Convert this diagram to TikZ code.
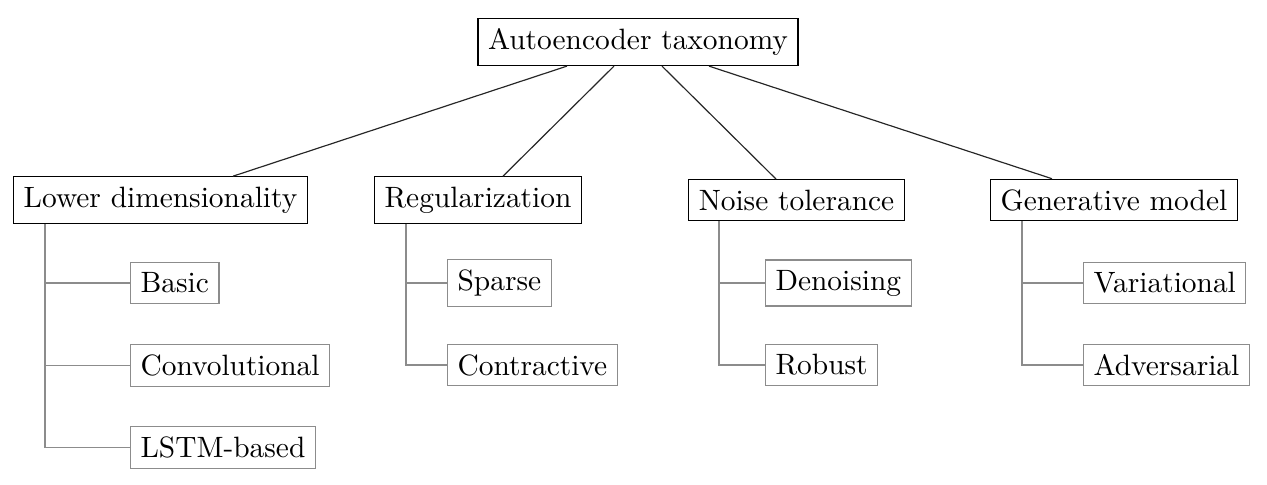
\documentclass[tikz,border=0pt]{standalone}
\begin{document}
\begin{tikzpicture}[x=0.34pt,y=-0.34pt,
  topbox/.style={draw=black,line width=0.4pt,inner sep=3.4pt},
  leafbox/.style={draw=black!45,line width=0.4pt,inner sep=3.4pt,anchor=west},
  rootedge/.style={draw=black!85,line width=0.4pt},
  leafedge/.style={draw=black!45,line width=0.4pt}]
\useasboundingbox (0,0) rectangle (1267,485);
\node[topbox] (root) at (638,42) {Autoencoder taxonomy};
\node[topbox] (ld) at (160.5,200) {Lower dimensionality};
\node[topbox] (reg) at (478,200) {Regularization};
\node[topbox] (noise) at (796.5,200) {Noise tolerance};
\node[topbox] (gen) at (1114,200) {Generative model};
\node[leafbox] (basic) at (130,283) {Basic};
\node[leafbox] (conv) at (130,365.5) {Convolutional};
\node[leafbox] (lstm) at (130,447.5) {LSTM-based};
\node[leafbox] (sparse) at (447,283) {Sparse};
\node[leafbox] (contr) at (447,365) {Contractive};
\node[leafbox] (deno) at (765,283) {Denoising};
\node[leafbox] (rob) at (765,365) {Robust};
\node[leafbox] (var) at (1083,283) {Variational};
\node[leafbox] (adv) at (1083,365) {Adversarial};
\draw[rootedge] ([xshift=-71*0.34pt]root.south) -- ([xshift=72.5*0.34pt]ld.north);
\draw[rootedge] ([xshift=-24*0.34pt]root.south) -- ([xshift=25*0.34pt]reg.north);
\draw[rootedge] ([xshift=24*0.34pt]root.south) -- ([xshift=-20.5*0.34pt]noise.north);
\draw[rootedge] ([xshift=71*0.34pt]root.south) -- ([xshift=-62*0.34pt]gen.north);
\coordinate (ldt) at (45,0);
\draw[leafedge] (ld.south -| ldt) |- (lstm.west);
\draw[leafedge] (basic.west -| ldt) -- (basic.west);
\draw[leafedge] (conv.west -| ldt) -- (conv.west);
\coordinate (regt) at (406,0);
\draw[leafedge] (reg.south -| regt) |- (contr.west);
\draw[leafedge] (sparse.west -| regt) -- (sparse.west);
\coordinate (noit) at (719,0);
\draw[leafedge] (noise.south -| noit) |- (rob.west);
\draw[leafedge] (deno.west -| noit) -- (deno.west);
\coordinate (gent) at (1022,0);
\draw[leafedge] (gen.south -| gent) |- (adv.west);
\draw[leafedge] (var.west -| gent) -- (var.west);
\end{tikzpicture}
\end{document}
